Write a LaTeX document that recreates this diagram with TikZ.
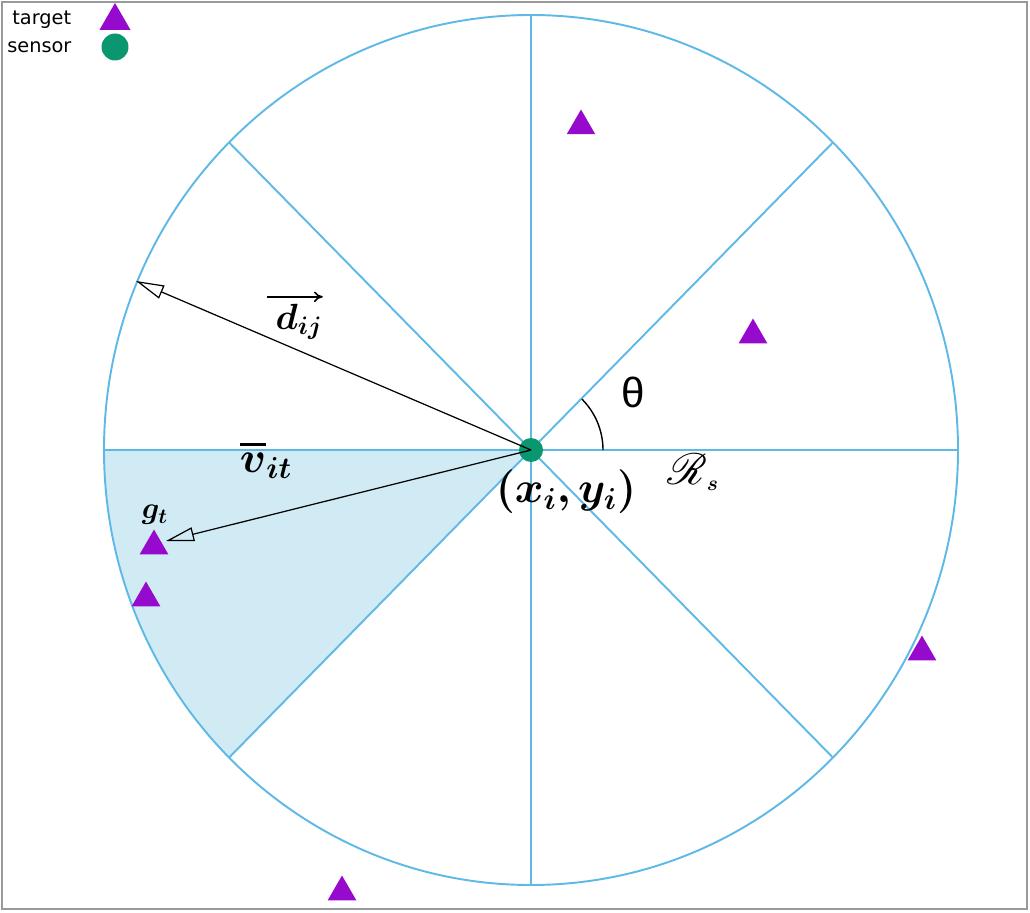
\documentclass[tikz,border=0pt]{standalone}
\usepackage{amsmath,amssymb}
\usepackage{fontspec}
\usepackage{bm}
\usepackage{mathrsfs}
\usepackage{tikz}
\usetikzlibrary{arrows.meta,shapes.geometric}
\usetikzlibrary{calc}
\usetikzlibrary{positioning}
\definecolor{spokeblue}{RGB}{95,185,230}
\definecolor{sectorfill}{RGB}{208,235,244}
\definecolor{targetviolet}{RGB}{150,10,205}
\definecolor{sensorgreen}{RGB}{10,150,110}
\newfontfamily\legendfont{DejaVu Sans}
\newfontfamily\thetafont{Liberation Sans}
\tikzset{
    spoke/.style={draw=spokeblue, line width=1.1pt},
    target/.style={regular polygon, regular polygon sides=3, fill=targetviolet,
        inner sep=0pt, minimum size=0.66cm},
    sensor/.style={circle, fill=sensorgreen, inner sep=0pt, minimum size=0.48cm},
    vecarrow/.style={draw=black, line width=0.7pt,
        -{Triangle[open, length=16pt, width=8pt]}},
    legendtext/.style={anchor=west, inner sep=0pt, font=\legendfont\fontsize{11}{13}\selectfont},
}

\begin{document}
\begin{tikzpicture}[x=0.02cm, y=-0.02cm]
	\useasboundingbox (0,0) rectangle (1030,912);
	\draw[gray!80, line width=1.2pt] (2,2) rectangle (1027,909);
	\coordinate (s) at (531,450);
%
	% sensing sector and range
	\fill[sectorfill] (s) -- ++(-427,0) arc[start angle=180, end angle=135, x radius=427, y radius=435] -- cycle;
	\foreach \a in {0,45,90,135}
		\draw[spoke] ($(s)+(\a:427 and 435)$) -- ($(s)-(\a:427 and 435)$);
	\draw[spoke] (s) ellipse[x radius=427, y radius=435];
	\draw[line width=0.8pt] ($(s)+(-45:72)$) arc[start angle=-45, end angle=0, radius=72];
%
	% targets
	\node[target] (t1) at (581,126) {};
	\node[target] (t2) at (753,335) {};
	\node[target] (t3) at (922,652) {};
	\node[target] (gt) at (154,546) {};
	\node[target] (t5) at (146,598) {};
	\node[target] (t6) at (342,892) {};
%
	% sensor and vectors
	\node[sensor] (sensor) at (s) {};
	\coordinate (dtip) at (136,281);
	\coordinate (vtip) at (166,541);
	\draw[vecarrow] (sensor.center) -- (dtip);
	\draw[vecarrow] (sensor.center) -- (vtip);
%
	\node[inner sep=0pt] (dlabel) at (299,322) {\fontsize{22}{26}\selectfont$\bm{d}_{\bm{ij}}$};
	\draw[line width=0.9pt, -{To[length=5pt, width=6pt]}] ($(dlabel.north west)+(-8,-7)$) -- ($(dlabel.north east)+(0,-7)$);
	\node[inner sep=0pt] (vlabel) at (266,460) {\fontsize{34}{38}\selectfont$\overline{\bm{v}}_{\scriptscriptstyle\bm{it}}$};
	\node (glabel) at (155,515) {\fontsize{18}{22}\selectfont$\bm{g}_{\bm{t}}$};
	\node (xylabel) at (566,492) {\fontsize{26}{30}\selectfont$\bm{(x_i,y_i)}$};
	\node (theta) at (633,392) {\thetafont\fontsize{24}{28}\selectfont θ};
	\node (range) at (693,472) {\fontsize{24}{28}\selectfont$\bm{\mathscr{R}}_{\scriptscriptstyle\bm{s}}$};
%
	% legend
	\node[legendtext] (tgtkey) at (12,20) {target};
	\node[legendtext] (senkey) at (7,47) {sensor};
	\node[target, minimum size=0.72cm] (tgtmark) at (115,21) {};
	\node[sensor, minimum size=0.54cm] (senmark) at (115,47) {};
\end{tikzpicture}
\end{document}
